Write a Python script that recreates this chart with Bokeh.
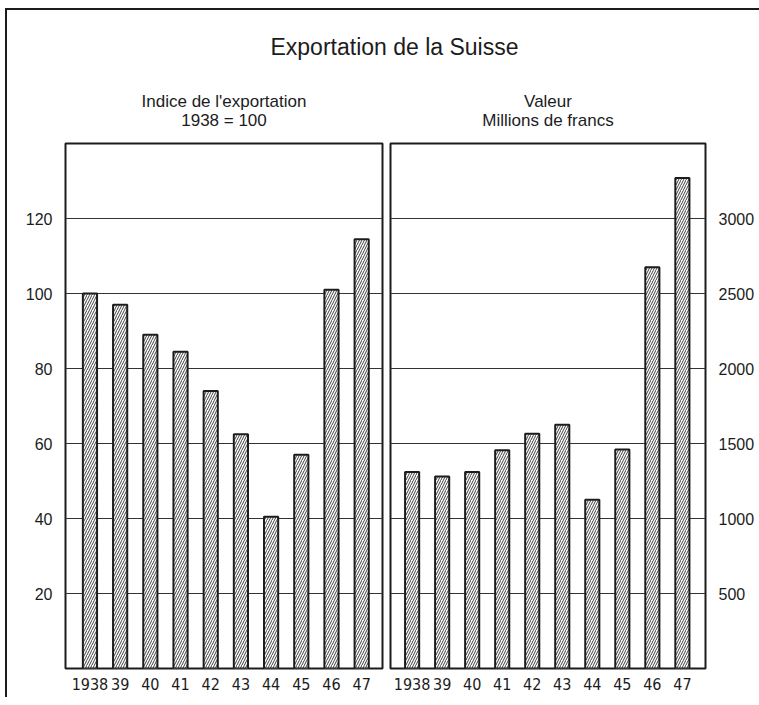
from bokeh.plotting import figure
from bokeh.layouts import column, row
from bokeh.models import ColumnDataSource, FixedTicker, Range1d, Label
from bokeh.embed import file_html
from bokeh.resources import INLINE

# ---------------- data ----------------
years = ["1938", "39", "40", "41", "42", "43", "44", "45", "46", "47"]
index_values = [100, 97, 89, 84.5, 74, 62.5, 40.5, 57, 101, 114.5]
value_millions = [1310, 1280, 1310, 1455, 1565, 1625, 1125, 1460, 2675, 3270]
left_ticks = [20, 40, 60, 80, 100, 120]
right_ticks = [500, 1000, 1500, 2000, 2500, 3000]

main_title = "Exportation de la Suisse"
left_subtitle = ["Indice de l'exportation", "1938 = 100"]
right_subtitle = ["Valeur", "Millions de francs"]

INK = "#1c1c1c"
FONT = "Liberation Sans"
NARROW = "DejaVu Sans Condensed"

# ---------------- header (titles) ----------------
TOP_W, TOP_H = 752, 125
top = figure(width=TOP_W, height=TOP_H, x_range=Range1d(0, TOP_W), y_range=Range1d(0, TOP_H),
             output_backend="svg", toolbar_location=None, min_border=0,
             x_axis_location=None, y_axis_location=None)
top.outline_line_color = None
top.grid.visible = False

top.add_layout(Label(x=387, y=89, text=main_title, text_align="center", text_baseline="alphabetic",
                     text_font=FONT, text_font_size="23px", text_color=INK))
for i, line in enumerate(left_subtitle):
    top.add_layout(Label(x=216.5, y=34 - 19 * i, text=line, text_align="center", text_baseline="middle",
                         text_font=FONT, text_font_size="17px", text_color=INK))
for i, line in enumerate(right_subtitle):
    top.add_layout(Label(x=540.5, y=34 - 19 * i, text=line, text_align="center", text_baseline="middle",
                         text_font=FONT, text_font_size="17px", text_color=INK))


def panel(vals, ticks, ymax, xr, width, side, bl, br):
    src = ColumnDataSource(dict(x=list(range(len(years))), top=vals))
    p = figure(width=width, height=562, x_range=Range1d(*xr), y_range=Range1d(0, ymax),
               output_backend="svg", toolbar_location=None, y_axis_location=side,
               min_border_left=bl, min_border_right=br, min_border_top=8, min_border_bottom=29)
    p.vbar(x="x", top="top", bottom=0, width=0.47, source=src,
           fill_color="white", line_color=INK, line_width=2,
           hatch_pattern="/", hatch_color="#2a2a2a", hatch_weight=0.9, hatch_scale=5)
    p.outline_line_color = INK
    p.outline_line_width = 2
    p.outline_line_alpha = 1
    p.xgrid.visible = False
    p.ygrid.ticker = FixedTicker(ticks=ticks)
    p.ygrid.grid_line_color = "#333333"
    p.ygrid.grid_line_width = 1.2
    p.ygrid.grid_line_alpha = 1

    for ax in (p.xaxis[0], p.yaxis[0]):
        ax.axis_line_color = None
        ax.major_tick_line_color = None
        ax.minor_tick_line_color = None
        ax.major_tick_out = 0
        ax.major_tick_in = 0
        ax.minor_tick_out = 0
        ax.minor_tick_in = 0
        ax.major_label_text_color = INK

    xa = p.xaxis[0]
    xa.ticker = FixedTicker(ticks=list(range(len(years))))
    xa.major_label_overrides = {i: y for i, y in enumerate(years)}
    xa.major_label_text_font = NARROW
    xa.major_label_text_font_size = "16px"
    xa.major_label_standoff = 9

    ya = p.yaxis[0]
    ya.ticker = FixedTicker(ticks=ticks)
    ya.major_label_text_font = FONT
    ya.major_label_text_font_size = "16px"
    ya.major_label_standoff = 13
    return p


left = panel(index_values, left_ticks, 140, (-0.81, 9.69), 379, "left", 58, 4)
right = panel(value_millions, right_ticks, 3500, (-0.72, 9.77), 373, "right", 4, 54)

layout = column(top, row(left, right),
                styles={"margin-left": "5px", "margin-top": "8px",
                        "border-left": "2px solid #1c1c1c", "border-top": "2px solid #1c1c1c"})

open("out.html", "w").write(file_html(layout, INLINE))
